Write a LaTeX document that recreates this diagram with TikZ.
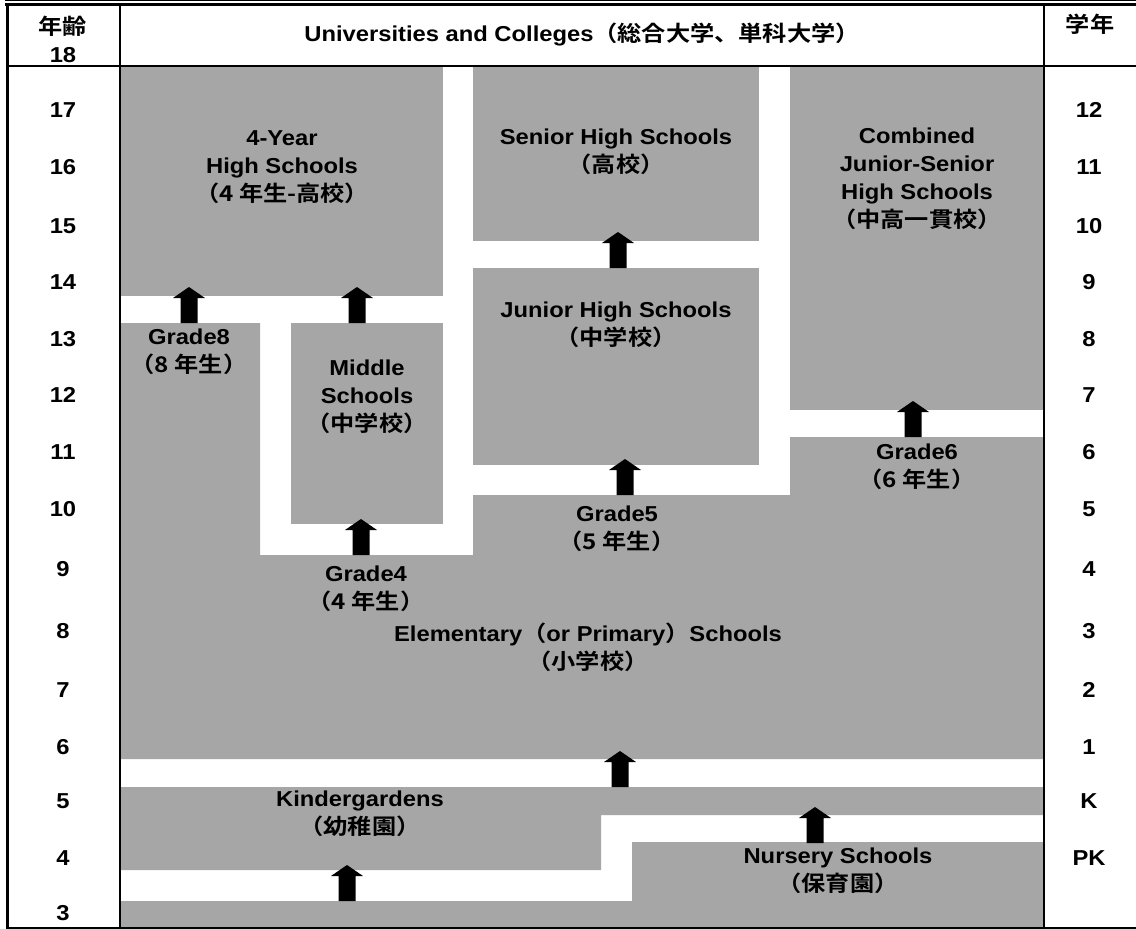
\documentclass[tikz,border=0pt]{standalone}
\usepackage{fontspec}
\setmainfont{Liberation Sans}[FakeStretch=1.1]
\newfontfamily\jp{Noto Sans CJK JP}[FakeStretch=1.12, BoldFont={Noto Sans CJK JP Bold}]
\definecolor{boxgray}{RGB}{166,166,166}
\begin{document}
\begin{tikzpicture}[x=1pt,y=-1pt,
  lbl/.style={font=\bfseries\fontsize{21.6}{28}\selectfont, align=center, inner sep=0pt, text=black},
  area/.style={fill=boxgray, draw=none},
  upa/.pic={\fill[black] (-8.5,0) -- (-8.5,-25) -- (-16,-25) -- (0,-36) -- (16,-25) -- (8.5,-25) -- (8.5,0) -- cycle;}
]
\useasboundingbox (0,0) rectangle (1136,929);
\fill[white] (0,0) rectangle (1136,929);
% gray areas
\fill[area] (120,67) rectangle (443,296);
\fill[area] (473,67) rectangle (759,241);
\fill[area] (790,67) rectangle (1044,410);
\fill[area] (473,268) rectangle (759,465);
\fill[area] (291,323) rectangle (443,524);
\fill[area] (120,323) -- (260,323) -- (260,555) -- (473,555) -- (473,495) -- (790,495) -- (790,437) -- (1044,437) -- (1044,759) -- (120,759) -- cycle;
\fill[area] (120,787) -- (1044,787) -- (1044,815) -- (601,815) -- (601,870) -- (120,870) -- cycle;
\fill[area] (632,842) -- (1044,842) -- (1044,928) -- (120,928) -- (120,901) -- (632,901) -- cycle;
% frame
\draw[line width=1.4pt] (5,0.7) -- (1136,0.7);
\draw[line width=2.3pt] (5,4.5) -- (1136,4.5);
\draw[line width=3pt] (7.5,4.5) -- (7.5,928.5);
\draw[line width=2pt] (7.5,66) -- (1136,66);
\draw[line width=2pt] (120,4.5) -- (120,928);
\draw[line width=2pt] (1044,4.5) -- (1044,928);
\draw[line width=2pt] (6,927.8) -- (1136,927.8);
% arrows
\pic at (189,323) {upa};
\pic at (357,323) {upa};
\pic at (361,555) {upa};
\pic at (618,268) {upa};
\pic at (625,495) {upa};
\pic at (913,437) {upa};
\pic at (620,787) {upa};
\pic at (815,843) {upa};
\pic at (347,901) {upa};
% header
\node[lbl] (agehd) at (63,39) {{\jp 年齢}\\18};
\node[lbl] (univ) at (582,34) {Universities and Colleges{\jp （総合大学、単科大学）}};
\node[lbl] (gradehd) at (1090,24) {\jp 学年};
% ages
\foreach \a/\y in {17/110,16/167,15/226,14/282,13/339,12/395,11/452,10/509,9/569,8/631,7/690,6/747,5/801,4/858,3/913}
  \node[lbl] (age\a) at (63,\y) {\a};
% grades
\foreach \g/\y in {12/110,11/167,10/226,9/282,8/339,7/395,6/452,5/509,4/569,3/631,2/690,1/747,K/801,PK/858}
  \node[lbl] (gr\g) at (1089,\y) {\g};
% boxes
\node[lbl] (hs4) at (282,167) {4-Year\\High Schools\\{\jp （4 年生-高校）}};
\node[lbl] (senior) at (616,152) {Senior High Schools\\{\jp （高校）}};
\node[lbl] (combined) at (917,179) {Combined\\Junior-Senior\\High Schools\\{\jp （中高一貫校）}};
\node[lbl] (junior) at (616,325) {Junior High Schools\\{\jp （中学校）}};
\node[lbl] (grade8) at (189,352) {Grade8\\{\jp （8 年生）}};
\node[lbl] (middle) at (367,397) {Middle\\Schools\\{\jp （中学校）}};
\node[lbl] (grade4) at (366,589) {Grade4\\{\jp （4 年生）}};
\node[lbl] (grade5) at (617,529) {Grade5\\{\jp （5 年生）}};
\node[lbl] (grade6) at (917,467) {Grade6\\{\jp （6 年生）}};
\node[lbl] (elem) at (588,647) {Elementary{\jp （}or Primary{\jp ）}Schools\\{\jp （小学校）}};
\node[lbl] (kinder) at (360,814) {Kindergardens\\{\jp （幼稚園）}};
\node[lbl] (nursery) at (838,871) {Nursery Schools\\{\jp （保育園）}};
\end{tikzpicture}
\end{document}
